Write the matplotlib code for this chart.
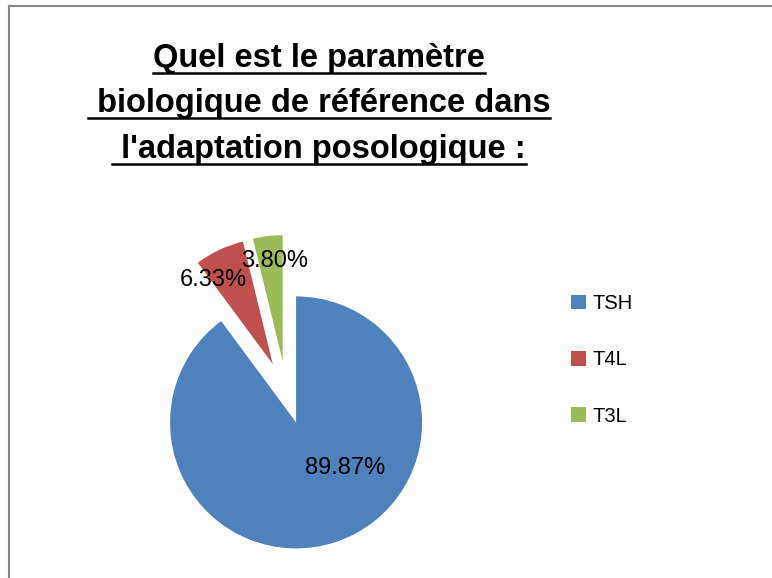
import matplotlib
matplotlib.use("Agg")
import matplotlib.pyplot as plt
from matplotlib.lines import Line2D

# ------------------------------------
# data
# ------------------------------------
categories = ["TSH", "T4L", "T3L"]
values = [89.87, 6.33, 3.80]
colors = ["#4F81BD", "#C0504D", "#9BBB59"]
title_lines = ["Quel est le paramètre",
               " biologique de référence dans",
               " l'adaptation posologique :"]

# layout (pie radius = 1)
explode = [0.24, 0.26, 0.26]
label_pos = [(0.463, -0.590), (-0.584, 0.902), (-0.092, 1.053)]

W, H = 772, 578
plt.rcParams["font.family"] = ["Liberation Sans", "DejaVu Sans"]

fig = plt.figure(figsize=(W / 100, H / 100), dpi=100)
fig.patch.set_facecolor("white")

# pie axes: centre at (286.6, 393.7) px, radius 126 px
cx, cy, r_px, half = 286.6, 393.7, 126.0, 200.0
ax = fig.add_axes([(cx - half) / W, (H - cy - half) / H, 2 * half / W, 2 * half / H])

wedges, texts, autotexts = ax.pie(
    values,
    colors=colors,
    explode=explode,
    startangle=90,
    counterclock=False,
    autopct="%1.2f%%",
    textprops={"fontsize": 17, "color": "black"},
)
for t, (x, y) in zip(autotexts, label_pos):
    t.set_position((x, y))

lim = half / r_px
ax.set_xlim(-lim, lim)
ax.set_ylim(-lim, lim)
ax.set_aspect("equal")
ax.axis("off")

# legend
fig.legend(
    wedges, categories,
    loc="upper left",
    bbox_to_anchor=(571 / W, 1 - 294 / H),
    frameon=False,
    fontsize=14.5,
    handlelength=0.75,
    handleheight=0.75,
    handletextpad=0.33,
    labelspacing=1.85,
    borderpad=0,
    borderaxespad=0,
)

# title, bold + underlined
title_x = 319
baselines = [67, 112, 158]
title_texts = []
for line, yb in zip(title_lines, baselines):
    t = fig.text(title_x / W, 1 - yb / H, line, ha="center", va="baseline",
                 fontsize=23.5, fontweight="bold", color="black")
    title_texts.append((t, yb))

fig.canvas.draw()
renderer = fig.canvas.get_renderer()
for t, yb in title_texts:
    bb = t.get_window_extent(renderer)
    yu = 1 - (yb + 6) / H
    fig.add_artist(Line2D([bb.x0 / W, bb.x1 / W], [yu, yu],
                          transform=fig.transFigure, color="black", lw=1.8))

# chart border (top and left visible)
border = "#888888"
fig.add_artist(Line2D([9 / W, 1], [1 - 6 / H, 1 - 6 / H], transform=fig.transFigure,
                      color=border, lw=1.5))
fig.add_artist(Line2D([9 / W, 9 / W], [0, 1 - 6 / H], transform=fig.transFigure,
                      color=border, lw=1.5))

fig.savefig("out.png", dpi=100, facecolor="white")
